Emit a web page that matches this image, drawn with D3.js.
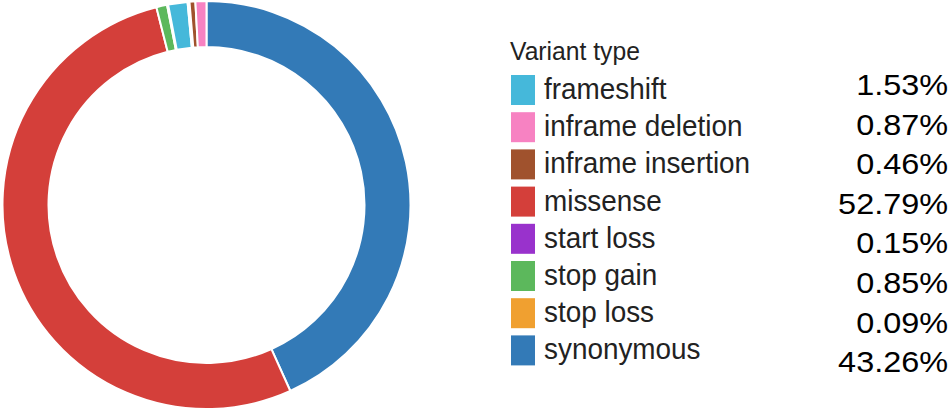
<!DOCTYPE html>
<html>
<head>
<meta charset="utf-8">
<script src="https://cdn.jsdelivr.net/npm/d3@7"></script>
<style>
  html, body { margin: 0; padding: 0; background: #fff; }
  svg { display: block; }
  text { font-family: "Liberation Sans", Arial, Helvetica, sans-serif; }
</style>
</head>
<body>
<svg id="chart" width="950" height="412"></svg>
<script>
// ---- data ----
const categories = ["frameshift", "inframe deletion", "inframe insertion", "missense",
                    "start loss", "stop gain", "stop loss", "synonymous"];
const percents = [1.53, 0.87, 0.46, 52.79, 0.15, 0.85, 0.09, 43.26];
const colors = ["#45b8da", "#f782c2", "#a0522d", "#d43f3a",
                "#9932cc", "#5cb85c", "#f0a030", "#337ab7"];
// clockwise order of the slices, starting at 12 o'clock
const sliceOrder = ["synonymous", "missense", "stop gain", "stop loss",
                    "frameshift", "start loss", "inframe insertion", "inframe deletion"];
const legendTitle = "Variant type";

// ---- drawing ----
const svg = d3.select("#chart");
const color = d3.scaleOrdinal().domain(categories).range(colors);
const valueOf = new Map(categories.map((c, i) => [c, percents[i]]));

const cx = 206.5, cy = 205, rOuter = 204, rInner = 158;
const pie = d3.pie().sort(null).value(d => valueOf.get(d));
const arc = d3.arc().innerRadius(rInner).outerRadius(rOuter);

svg.append("g")
  .attr("transform", `translate(${cx},${cy})`)
  .selectAll("path")
  .data(pie(sliceOrder))
  .join("path")
  .attr("d", arc)
  .attr("fill", d => color(d.data))
  .attr("stroke", "#fff")
  .attr("stroke-width", 2);

// legend
const lg = svg.append("g");
lg.append("text")
  .attr("transform", "translate(510,60) scale(0.95,1)")
  .attr("font-size", 26)
  .attr("fill", "#222")
  .text(legendTitle);

const rowY = d3.scaleLinear().domain([0, 1]).range([75, 75 + 37.2]);
const pctY = d3.scaleLinear().domain([0, 1]).range([95, 95 + 39.6]);

const rows = lg.selectAll("g.row").data(categories).join("g").attr("class", "row");
rows.append("rect")
  .attr("x", 511)
  .attr("y", (d, i) => rowY(i))
  .attr("width", 24)
  .attr("height", 30)
  .attr("fill", d => color(d));
rows.append("text")
  .attr("transform", (d, i) => `translate(544,${rowY(i) + 24}) scale(0.93,1)`)
  .attr("font-size", 30)
  .attr("fill", "#222")
  .text(d => d);
rows.append("text")
  .attr("transform", (d, i) => `translate(948,${pctY(i)}) scale(1.08,1)`)
  .attr("text-anchor", "end")
  .attr("font-size", 30)
  .attr("fill", "#000")
  .text(d => valueOf.get(d).toFixed(2) + "%");
</script>
</body>
</html>
